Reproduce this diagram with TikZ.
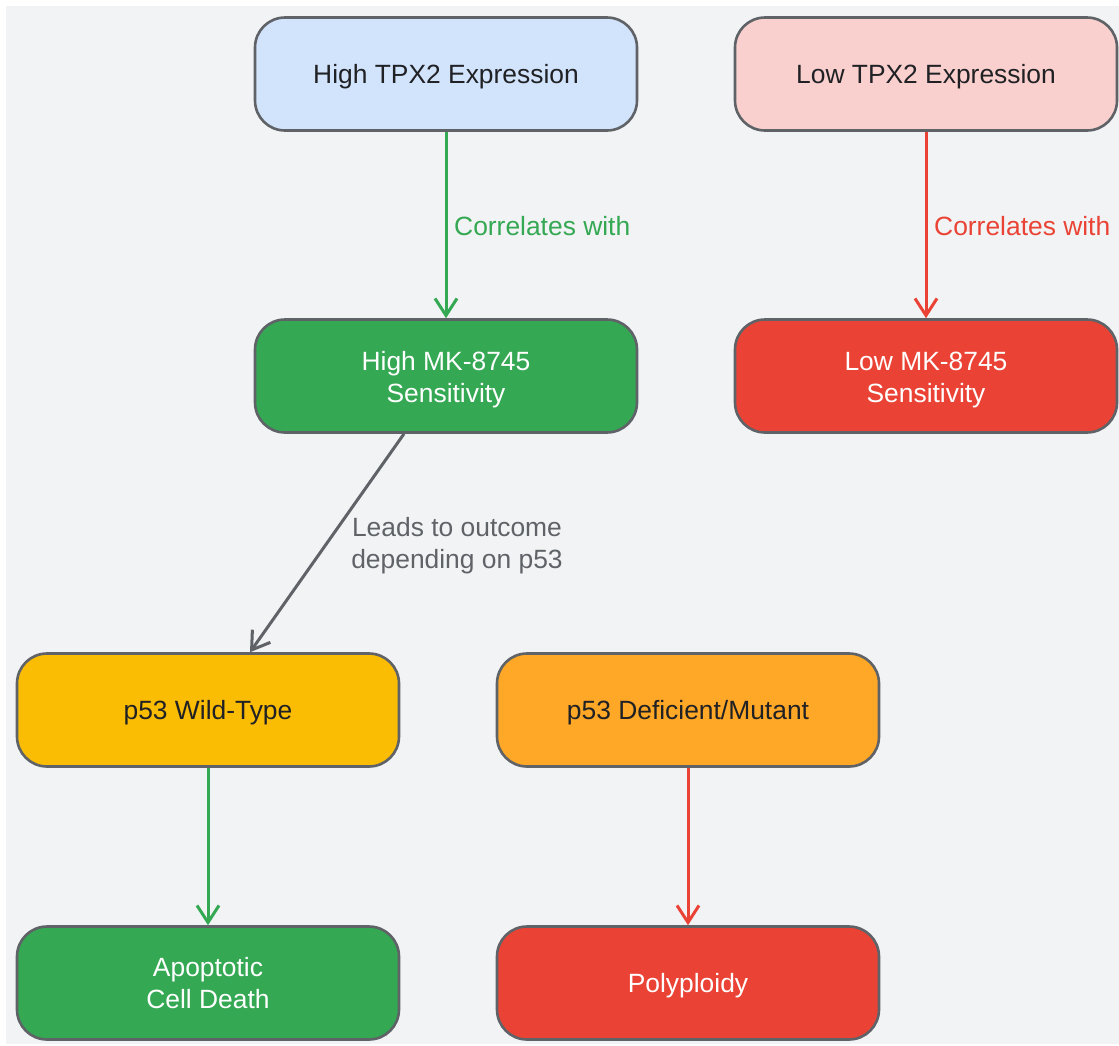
\documentclass[tikz,border=0pt]{standalone}
\usepackage{fontspec}
\setmainfont{Liberation Sans}
\usetikzlibrary{arrows.meta}
\definecolor{bgc}{HTML}{F1F3F4}
\definecolor{edgec}{HTML}{5F6368}
\definecolor{txtc}{HTML}{202124}
\definecolor{bluec}{HTML}{D2E3FC}
\definecolor{pinkc}{HTML}{F9D0CE}
\definecolor{greenc}{HTML}{34A853}
\definecolor{redc}{HTML}{EA4335}
\definecolor{yellowc}{HTML}{FBBC04}
\definecolor{orangec}{HTML}{FFA726}
\tikzset{
  box/.style={draw=edgec, line width=2.6pt, rounded corners=30pt,
    minimum width=382pt, minimum height=113pt, inner sep=0pt},
  lbl/.style={inner sep=0pt, align=center, font=\fontsize{26.4}{32}\selectfont},
  conn/.style={line width=3pt, -{Straight Barb[length=17pt, width=22pt, line width=3pt]}}
}
\begin{document}
\begin{tikzpicture}[x=1pt, y=-1pt]
\useasboundingbox (0,0) rectangle (1119,1045);
\fill[bgc] (6,6) rectangle (1119,1044);
\node[box, fill=bluec] (htpx) at (446,74) {};
\node[box, fill=pinkc] (ltpx) at (926,74) {};
\node[box, fill=greenc] (hmk) at (446,376) {};
\node[box, fill=redc] (lmk) at (926,376) {};
\node[box, fill=yellowc] (wt) at (208,710) {};
\node[box, fill=orangec] (mut) at (688,710) {};
\node[box, fill=greenc] (apo) at (208,983) {};
\node[box, fill=redc] (poly) at (688,983) {};
\node[lbl, text=txtc] (htpxt) at (446,77) {High TPX2 Expression};
\node[lbl, text=txtc] (ltpxt) at (926,77) {Low TPX2 Expression};
\node[lbl, text=white] (hmkt) at (446,380) {High MK-8745\\Sensitivity};
\node[lbl, text=white] (lmkt) at (926,380) {Low MK-8745\\Sensitivity};
\node[lbl, text=txtc] (wtt) at (208,713) {p53 Wild-Type};
\node[lbl, text=txtc] (mutt) at (688,713) {p53 Deficient/Mutant};
\node[lbl, text=white] (apot) at (208,983) {Apoptotic\\Cell Death};
\node[lbl, text=white] (polyt) at (688,986) {Polyploidy};
\draw[conn, greenc] (htpx) -- (hmk);
\draw[conn, redc] (ltpx) -- (lmk);
\draw[conn, edgec] ([xshift=-42pt]hmk.south) -- ([xshift=42pt]wt.north);
\draw[conn, greenc] (wt) -- (apo);
\draw[conn, redc] (mut) -- (poly);
\node[lbl, anchor=west, text=greenc] (l1) at (454,226) {Correlates with};
\node[lbl, anchor=west, text=redc] (l2) at (934,226) {Correlates with};
\node[lbl, text=edgec] (l3) at (457,546) {Leads to outcome\\depending on p53};
\end{tikzpicture}
\end{document}
